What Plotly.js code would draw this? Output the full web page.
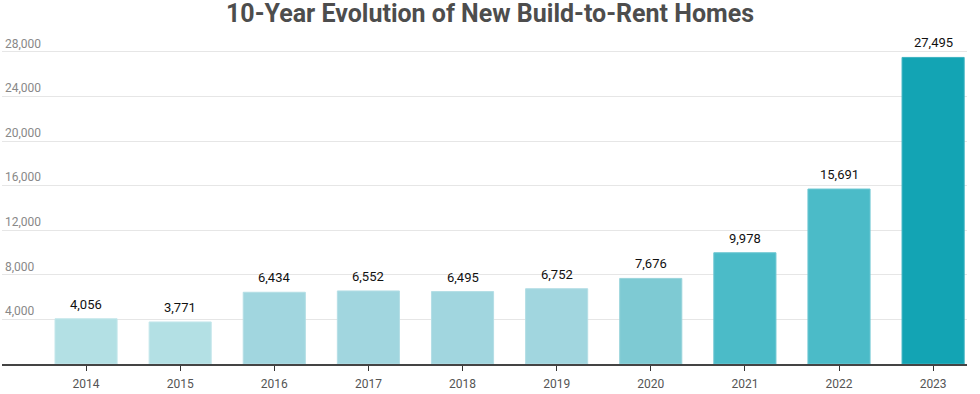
<!DOCTYPE html>
<html>
<head>
<meta charset="utf-8">
<script src="https://cdn.plot.ly/plotly-3.0.1.min.js"></script>
<style>html,body{margin:0;padding:0;background:#fff;}#chart{width:980px;height:394px;}</style>
</head>
<body>
<div id="chart"></div>
<script>
const years = ['2014','2015','2016','2017','2018','2019','2020','2021','2022','2023'];
const homes = [4056, 3771, 6434, 6552, 6495, 6752, 7676, 9978, 15691, 27495];
const barColors = ['#b3e0e4','#b3e0e4','#a1d6df','#a1d6df','#a1d6df','#a1d6df','#7ecad3','#4bbbc8','#4bbbc8','#13a4b4'];
const lineColors = ['#c4e7eb','#c4e7eb','#b4dee5','#b4dee5','#b4dee5','#b4dee5','#98d4db','#6cc7d2','#6cc7d2','#3db3c1'];
const yTicks = [4000, 8000, 12000, 16000, 20000, 24000, 28000];
const yTickText = ['4,000','8,000','12,000','16,000','20,000','24,000','28,000'];

const xs = years.map((_, i) => i);

const trace = {
  type: 'bar',
  x: xs,
  y: homes,
  width: 0.66,
  marker: {color: barColors, line: {color: lineColors, width: 1}},
  hoverinfo: 'none'
};

const labels = homes.map((v, i) => ({
  x: xs[i], y: v, xref: 'x', yref: 'y',
  text: v.toLocaleString('en-US'),
  showarrow: false, yanchor: 'bottom', yshift: 5,
  font: {family: 'Roboto', size: 13, color: '#111'}
}));

const layout = {
  width: 980, height: 394,
  margin: {l: 2, r: 13, t: 30, b: 30},
  paper_bgcolor: '#fff', plot_bgcolor: '#fff',
  showlegend: false,
  title: {text: '10-Year Evolution of New Build-to-Rent Homes', x: 0.5, xanchor: 'center', y: 0.967, yanchor: 'middle',
          font: {family: 'Roboto', size: 25, color: '#4d4d4d', weight: 'bold'}},
  xaxis: {
    range: [-0.893, 9.36],
    tickvals: xs,
    ticktext: years,
    ticks: 'outside', ticklen: 5, tickcolor: '#333', tickwidth: 1,
    ticklabelstandoff: 3,
    showline: true, linecolor: '#444', linewidth: 2,
    showgrid: false, zeroline: false,
    tickfont: {family: 'Roboto', size: 12, color: '#555'}
  },
  yaxis: {
    range: [0, 29955],
    tickvals: yTicks, ticktext: yTickText,
    ticklabelposition: 'inside top',
    showgrid: true, gridcolor: '#e6e6e6', gridwidth: 1,
    zeroline: false, showline: false, ticks: '',
    tickfont: {family: 'Roboto', size: 12, color: '#888'}
  },
  annotations: labels
};

Plotly.newPlot('chart', [trace], layout, {staticPlot: true, displayModeBar: false});
</script>
</body>
</html>
